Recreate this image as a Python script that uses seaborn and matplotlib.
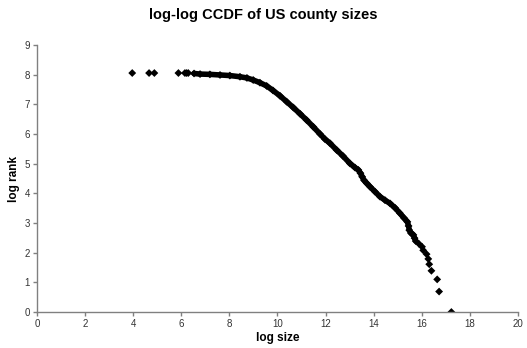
import matplotlib
matplotlib.use("Agg")
import matplotlib.pyplot as plt
import seaborn as sns
import pandas as pd

# values (natural logs)
# isolated smallest counties along the top
flat_size = [3.96, 4.66, 4.88, 5.88, 6.15, 6.22, 6.29]
flat_rank = [8.055, 8.055, 8.055, 8.055, 8.055, 8.055, 8.055]

# dense part of the curve
curve_size = [6.53, 6.78, 7.19, 7.61, 8.02, 8.44, 8.73, 8.99, 9.27, 9.55,
              9.81, 10.10, 10.38, 10.66, 10.94, 11.21, 11.49, 11.77, 11.97, 12.18,
              12.46, 12.72, 13.01, 13.22, 13.36, 13.45, 13.52, 13.60, 13.71, 13.85,
              14.05, 14.26, 14.47, 14.68, 14.89, 15.09, 15.26, 15.40, 15.45, 15.48,
              15.55, 15.65, 15.70, 15.75]
curve_rank = [8.04, 8.02, 8.01, 7.99, 7.97, 7.93, 7.89, 7.82, 7.73, 7.62,
              7.47, 7.29, 7.09, 6.89, 6.68, 6.47, 6.24, 6.00, 5.83, 5.69,
              5.46, 5.26, 5.01, 4.87, 4.79, 4.68, 4.56, 4.44, 4.34, 4.22,
              4.06, 3.89, 3.77, 3.66, 3.51, 3.33, 3.17, 3.04, 2.90, 2.76,
              2.66, 2.60, 2.49, 2.39]

# largest counties, one marker each
tail_size = [15.88, 16.01, 16.06, 16.20, 16.27, 16.31, 16.40, 16.64, 16.72, 17.23]
tail_rank = [2.30, 2.20, 2.08, 1.95, 1.79, 1.61, 1.39, 1.10, 0.69, 0.00]

sns.set_style("white")
plt.rcParams['font.family'] = ['Liberation Sans', 'DejaVu Sans']
plt.rcParams['text.color'] = 'black'
plt.rcParams['axes.labelcolor'] = 'black'

curve = pd.DataFrame({'size': curve_size, 'rank': curve_rank})
points = pd.DataFrame({'size': flat_size + curve_size + tail_size,
                       'rank': flat_rank + curve_rank + tail_rank})

fig = plt.figure(figsize=(5.27, 3.48), dpi=100)
ax = fig.add_axes([0.0702, 0.1034, 0.9127, 0.7673])

sns.lineplot(data=curve, x='size', y='rank', sort=False, estimator=None,
             color='black', linewidth=4, ax=ax)
sns.scatterplot(data=points, x='size', y='rank', marker='D', s=16,
                color='black', edgecolor='none', ax=ax)

ax.set_xlim(0, 20)
ax.set_ylim(0, 9)
ax.set_xticks(range(0, 21, 2))
ax.set_yticks(range(0, 10))
sns.despine(ax=ax)
for side in ['left', 'bottom']:
    ax.spines[side].set_color('#808080')
    ax.spines[side].set_linewidth(1)
ax.tick_params(direction='out', length=3, width=1, color='#808080',
               labelsize=7, labelcolor='#333333', pad=2, left=True, bottom=True)

ax.set_xlabel("log size", fontsize=8.5, fontweight='bold', labelpad=2)
ax.set_ylabel("log rank", fontsize=8.5, fontweight='bold', labelpad=3)
fig.text(0.5, 0.957, "log-log CCDF of US county sizes", ha='center', va='center',
         fontsize=10.5, fontweight='bold', color='black')

fig.savefig("out.png", dpi=100)
